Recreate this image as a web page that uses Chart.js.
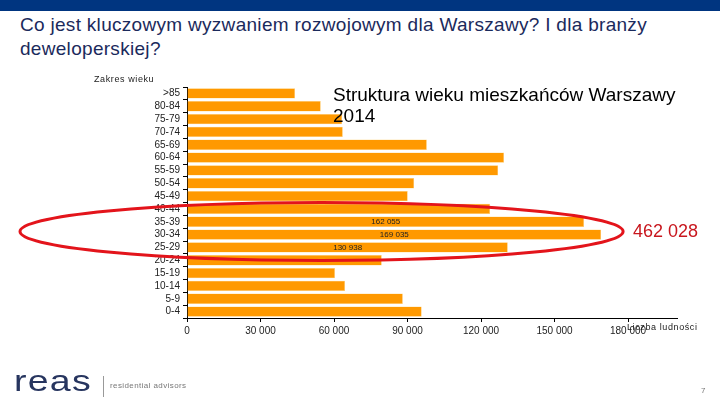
<!DOCTYPE html>
<html>
<head>
<meta charset="utf-8">
<script src="https://cdn.jsdelivr.net/npm/chart.js@4.4.1/dist/chart.umd.min.js"></script>
<style>
  body { margin: 0; background: #fff; font-family: "Liberation Sans", Arial, sans-serif; }
  #wrap { position: relative; width: 720px; height: 405px; overflow: hidden; }
  #band { position: absolute; left: 0; top: 0; width: 720px; height: 11px; background: #003580; }
  #head { position: absolute; left: 20px; top: 13px; font-size: 19px; line-height: 24px; color: #1b2a5c; letter-spacing: 0.3px; }
  canvas { position: absolute; left: 0; top: 0; }
  .t { position: absolute; white-space: nowrap; }
  #subtitle { left: 333px; top: 84px; font-size: 19px; line-height: 21px; color: #000; }
  #ylab { left: 94px; top: 74px; font-size: 9px; color: #222; letter-spacing: 0.6px; }
  #xlab { left: 627px; top: 322px; font-size: 9px; color: #222; letter-spacing: 0.6px; }
  #logo { left: 14px; top: 364px; font-size: 30px; color: #27355f; letter-spacing: 1px; transform: scaleX(1.25); transform-origin: left top; }
  #sep { position: absolute; left: 103px; top: 376px; width: 1px; height: 21px; background: #999; }
  #adv { left: 110px; top: 381px; font-size: 8px; color: #777; letter-spacing: 0.4px; }
  #page { left: 701px; top: 386px; font-size: 8px; color: #777; }
</style>
</head>
<body>
<div id="wrap">
  <div id="band"></div>
  <div id="head">Co jest kluczowym wyzwaniem rozwojowym dla Warszawy? I dla branży<br>deweloperskiej?</div>
  <canvas id="ageChart" width="720" height="405"></canvas>
  <div class="t" id="subtitle">Struktura wieku mieszkańców Warszawy<br>2014</div>
  <div class="t" id="ylab">Zakres wieku</div>
  <div class="t" id="xlab">Liczba ludności</div>
  <div class="t" id="logo">reas</div>
  <div id="sep"></div>
  <div class="t" id="adv">residential advisors</div>
  <div class="t" id="page">7</div>
</div>
<script>
const ageGroups = ['>85', '80-84', '75-79', '70-74', '65-69', '60-64', '55-59', '50-54', '45-49',
                   '40-44', '35-39', '30-34', '25-29', '20-24', '15-19', '10-14', '5-9', '0-4'];
const population = [44100, 54600, 63300, 63600, 97900, 129400, 127000, 92700, 90100,
                    123700, 162055, 169035, 130938, 79500, 60400, 64500, 88100, 95800];
const xTicks = [0, 30000, 60000, 90000, 120000, 150000, 180000];
const highlighted = ['35-39', '30-34', '25-29']; // grupy w elipsie

const fmt = v => String(v).replace(/\B(?=(\d{3})+(?!\d))/g, ' ');

// etykiety na wybranych słupkach + elipsa z sumą
const highlightPlugin = {
    id: 'highlight',
    afterDatasetsDraw(chart) {
        const ctx = chart.ctx;
        const meta = chart.getDatasetMeta(0);
        const xs = chart.scales.x;
        const ys = chart.scales.y;
        let total = 0;
        ctx.save();
        ctx.font = '8px "Liberation Sans", Arial, sans-serif';
        ctx.fillStyle = '#222';
        ctx.textAlign = 'center';
        ctx.textBaseline = 'middle';
        highlighted.forEach(g => {
            const i = ageGroups.indexOf(g);
            const bar = meta.data[i];
            total += population[i];
            ctx.fillText(fmt(population[i]), (bar.base + bar.x) / 2, bar.y + 0.5);
        });
        // elipsa
        const yMid = (ys.getPixelForValue(10) + ys.getPixelForValue(12)) / 2 - 3;
        const xRight = xs.getPixelForValue(178000);
        const xLeft = 20;
        ctx.beginPath();
        ctx.ellipse((xLeft + xRight) / 2, yMid, (xRight - xLeft) / 2, 29, 0, 0, Math.PI * 2);
        ctx.strokeStyle = '#e3141b';
        ctx.lineWidth = 3;
        ctx.stroke();
        ctx.font = '18px "Liberation Sans", Arial, sans-serif';
        ctx.fillStyle = '#c8161d';
        ctx.textAlign = 'left';
        ctx.fillText(fmt(total), 633, yMid);
        ctx.restore();
    }
};

new Chart(document.getElementById('ageChart').getContext('2d'), {
    type: 'bar',
    data: {
        labels: ageGroups,
        datasets: [{
            data: population,
            backgroundColor: '#ff9900',
            borderColor: '#ffd27a',
            borderWidth: 0.5,
            barPercentage: 0.8,
            categoryPercentage: 1
        }]
    },
    options: {
        indexAxis: 'y',
        responsive: false,
        animation: false,
        layout: { padding: { top: 87, right: 43, left: 0, bottom: 0 } },
        plugins: { legend: { display: false }, tooltip: { enabled: false } },
        scales: {
            x: {
                min: 0,
                max: 200000,
                afterBuildTicks: s => { s.ticks = xTicks.map(v => ({ value: v })); },
                ticks: {
                    autoSkip: false,
                    maxRotation: 0,
                    color: '#222',
                    font: { family: '"Liberation Sans", Arial, sans-serif', size: 10 },
                    padding: 3,
                    callback: v => fmt(v)
                },
                grid: { drawOnChartArea: false, drawTicks: true, tickLength: 4, color: '#000' },
                border: { color: '#000', width: 1 },
                afterFit: s => { s.height = 87; }
            },
            y: {
                ticks: {
                    autoSkip: false,
                    color: '#222',
                    font: { family: '"Liberation Sans", Arial, sans-serif', size: 10 },
                    padding: 3
                },
                grid: { drawOnChartArea: false, drawTicks: true, tickLength: 4, offset: true, color: '#000' },
                border: { color: '#000', width: 1 },
                afterFit: s => { s.width = 187; }
            }
        }
    },
    plugins: [highlightPlugin]
});
</script>
</body>
</html>
